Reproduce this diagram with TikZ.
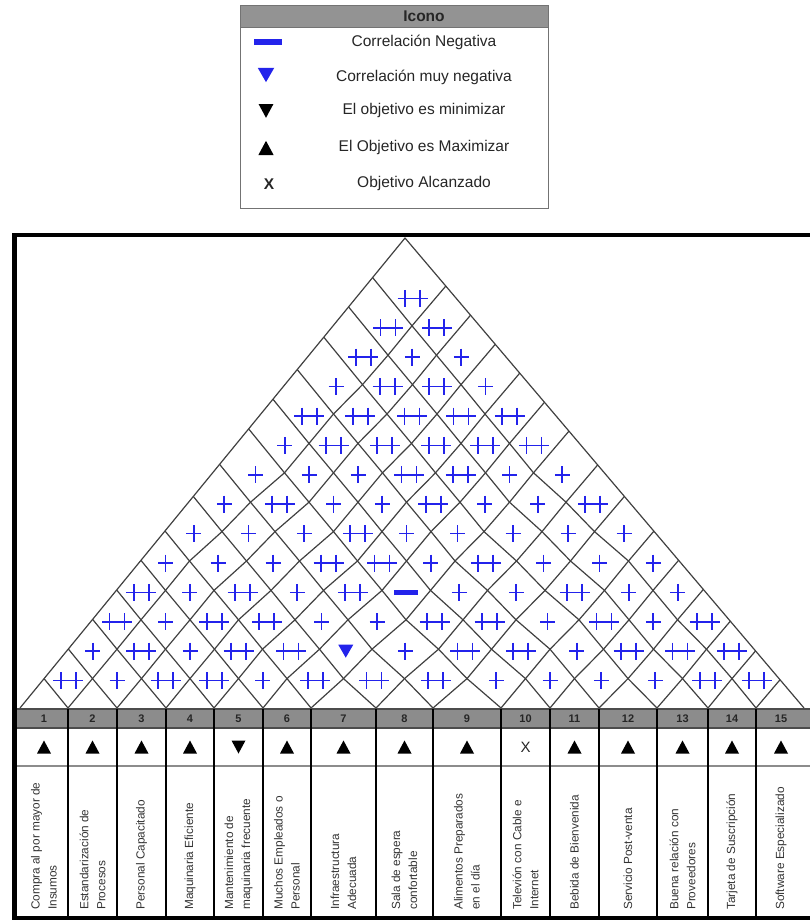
\documentclass[tikz,border=0pt]{standalone}
\usepackage{fontspec}
\setmainfont{Liberation Sans}
\usetikzlibrary{calc}
\definecolor{corrblue}{RGB}{35,35,235}

\begin{document}
\begin{tikzpicture}[x=1pt, y=-1pt,
    every node/.style={inner sep=0pt, text=black!85},
    leg/.style={font=\fontsize{15.5}{18}\selectfont},
    num/.style={font=\fontsize{11}{13}\selectfont\bfseries},
    req/.style={rotate=90, anchor=west, align=left, text=black!80, font=\fontsize{11.8}{17}\selectfont},
    roofline/.style={draw=black!75, line width=1.2pt, line join=round},
    c1/.pic={\draw[corrblue, line width=1.7pt] (-7.5,0) -- (7.5,0) (0,-8.5) -- (0,8.5);},
    c2/.pic={\draw[corrblue, line width=1.7pt] (-15,0) -- (15,0) (-7.5,-8.5) -- (-7.5,8.5) (7.5,-8.5) -- (7.5,8.5);},
    cn/.pic={\fill[corrblue] (-12,-2.5) rectangle (12,2.5);},
    cv/.pic={\fill[corrblue] (-7.5,-6.5) -- (7.5,-6.5) -- (0,6.5) -- cycle;},
    tup/.pic={\fill[black] (-7,6.5) -- (7,6.5) -- (0,-6.5) -- cycle;},
    tdown/.pic={\fill[black] (-7,-6.5) -- (7,-6.5) -- (0,6.5) -- cycle;},
    tx/.pic={\node[font=\fontsize{15}{15}\selectfont] {X};}]
  \useasboundingbox (0,0) rectangle (810,920);

  % legend
  \filldraw[fill=white, draw=black!55, line width=0.8pt] (240,5) rectangle (548,208);
  \filldraw[fill=gray!85, draw=black!55, line width=0.8pt] (240,5) rectangle (548,27);
  \node[leg] (icono) at (424,16) {\bfseries Icono};
  \pic[scale=1.2] at (268,42) {cn};
  \pic[scale=1.1] at (266,75) {cv};
  \pic[scale=1.05] at (266,111) {tdown};
  \pic[scale=1.1] at (266,148) {tup};
  \node[leg] (lx) at (269,184) {\bfseries X};
  \node[leg] (l1) at (424,42) {Correlación Negativa};
  \node[leg] (l2) at (424,77) {Correlación muy negativa};
  \node[leg] (l3) at (424,110) {El objetivo es minimizar};
  \node[leg] (l4) at (424,147) {El Objetivo es Maximizar};
  \node[leg] (l5) at (424,183) {Objetivo Alcanzado};

  % column boundaries on the base of the roof
  \foreach \bx [count=\k from 0] in {20,68,117,166,214,263,311,376,433,501,550,599,657,708,756,806}
    \coordinate (b\k) at (\bx,708);
  % grid vertices of the roof
  \foreach \k in {0,...,15}
    \foreach \m in {\k,...,15}
      \coordinate (v-\k-\m) at ($(b\k)!0.5!(b\m)+(0,{-29.4*(\m-\k)})$);

  % roof
  \begin{scope}
    \clip (20,708) -- (405,238) -- (804,708) -- cycle;
    \foreach \k [evaluate=\k as \kn using int(\k+1)] in {1,...,14}
      \draw[roofline] (v-\k-\k) \foreach \m in {\kn,...,15} { -- (v-\k-\m) } -- ($(v-\k-15)!-2!(v-\k-14)$);
    \foreach \m [evaluate=\m as \mp using int(\m-1)] in {1,...,14}
      \draw[roofline] (v-\m-\m) \foreach \k in {\mp,...,0} { -- (v-\k-\m) } -- ($(v-0-\m)!-2!(v-1-\m)$);
  \end{scope}
  \draw[roofline] (20,708) -- (405,238) -- (804,708);

  % correlations, row by row from the bottom
  \foreach \d/\row in {
      1/{2,1,2,2,1,2,2,2,1,1,1,1,2,2},
      2/{1,2,1,2,2,v,1,2,2,1,2,2,2},
      3/{2,1,2,2,1,1,2,2,1,2,1,2},
      4/{2,1,2,1,2,n,1,1,2,1,1},
      5/{1,1,1,2,2,1,2,1,1,1},
      6/{1,1,1,2,1,1,1,1,1},
      7/{1,2,1,1,2,1,1,2},
      8/{1,1,1,2,2,1,1},
      9/{1,2,2,2,2,2},
      10/{2,2,2,2,2},
      11/{1,2,2,1},
      12/{2,1,1},
      13/{2,2},
      14/{2}}
    \foreach \s [count=\i] in \row {
      \pgfmathtruncatemacro\ia{\i-1}
      \pgfmathtruncatemacro\j{\i+\d}
      \pgfmathtruncatemacro\ja{\i+\d-1}
      \pic at ($(v-\ia-\ja)!0.5!(v-\i-\j)+(0,2)$) {c\s};
    }

  % table
  \fill[gray!90] (14.5,709) rectangle (813,728);
  \draw[black!70, line width=1.2pt] (14.5,709) -- (813,709) (14.5,728) -- (813,728);
  \draw[black!45, line width=2pt] (14.5,766) -- (813,766);
  \foreach \k in {1,...,14}
    \draw[line width=1.4pt] ($(b\k)+(0,1)$) -- ++(0,209);
  \foreach \k/\goal/\txt in {
      1/tup/{Compra al por mayor de\\Insumos},
      2/tup/{Estandarización de\\Procesos},
      3/tup/{Personal Capacitado},
      4/tup/{Maquinaria Eficiente},
      5/tdown/{Mantenimiento de\\maquinaria frecuente},
      6/tup/{Muchos Empleados o\\Personal},
      7/tup/{Infraestructura\\Adecuada},
      8/tup/{Sala de espera\\confortable},
      9/tup/{Alimentos Preparados\\en el día},
      10/tx/{Televión con Cable e\\Internet},
      11/tup/{Bebida de Bienvenida},
      12/tup/{Servicio Post-venta},
      13/tup/{Buena relación con\\Proveedores},
      14/tup/{Tarjeta de Suscripción},
      15/tup/{Software Especializado}} {
    \pgfmathtruncatemacro\kp{\k-1}
    \coordinate (c\k) at ($(b\kp)!0.5!(b\k)$);
    \node[num] (n\k) at ($(c\k)+(0,10.5)$) {\k};
    \pic at ($(c\k)+(0,39)$) {\goal};
    \node[req] (t\k) at ($(c\k)+(0,202)$) {\txt};
  }

  % frame
  \draw[line width=4.5pt] (14.5,235) rectangle (813,918);
\end{tikzpicture}
\end{document}
